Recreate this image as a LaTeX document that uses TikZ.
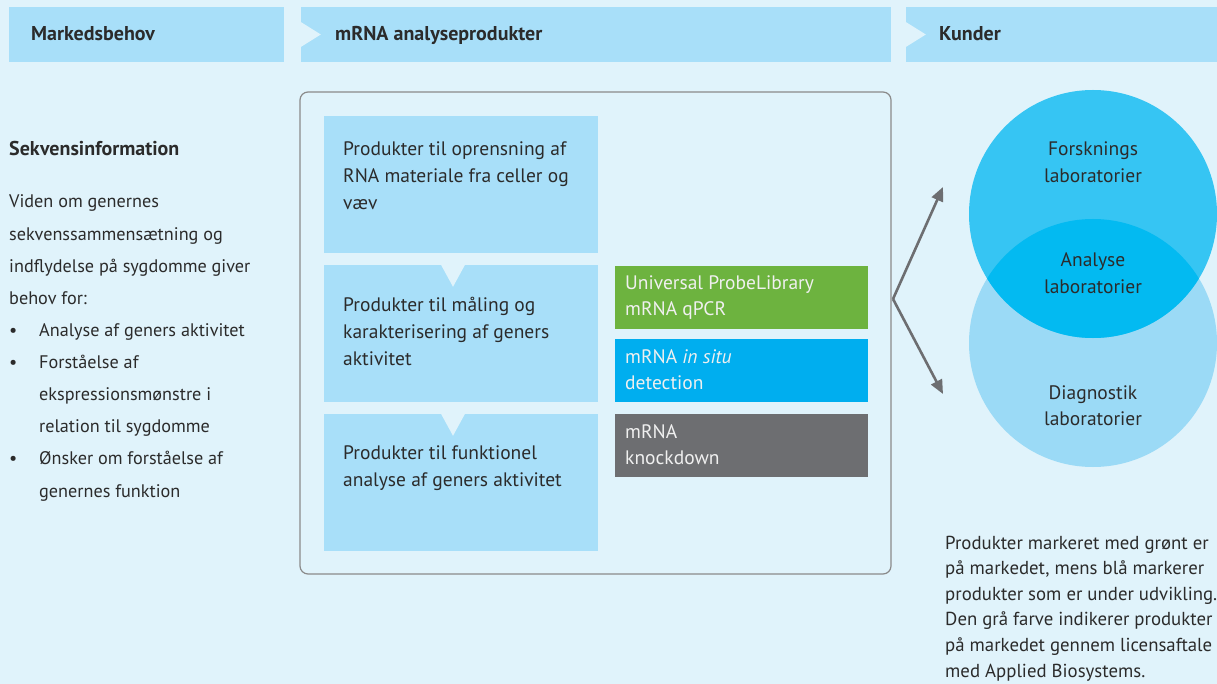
\documentclass[tikz,border=0pt]{standalone}
\usepackage{fontspec}
\setmainfont{PT Sans}
\usetikzlibrary{calc,positioning,arrows.meta}
\definecolor{bg}{HTML}{E0F3FB}
\definecolor{barblue}{HTML}{A8DFF9}
\definecolor{txtgray}{HTML}{2B2B2B}
\definecolor{upl}{HTML}{6DB33F}
\definecolor{insitu}{HTML}{00AEEF}
\definecolor{kd}{HTML}{6D6E71}
\definecolor{framegray}{HTML}{8A8A8A}
\definecolor{circtop}{HTML}{36C5F3}
\definecolor{circbot}{HTML}{9BDAF6}
\definecolor{circmid}{HTML}{03BAF1}

\begin{document}
\begin{tikzpicture}[x=1pt, y=-1pt,
    bar/.style={fill=barblue, minimum height=55, inner sep=0},
    head/.style={anchor=base west, inner sep=0, text=txtgray, font=\bfseries\fontsize{20}{24}\selectfont},
    prodbox/.style={fill=barblue, minimum width=274, minimum height=137, inner sep=0},
    prodtxt/.style={anchor=base west, inner sep=0, align=left, text=txtgray, font=\fontsize{19.5}{27}\selectfont},
    tagbox/.style={minimum width=253, minimum height=63, inner sep=0},
    tagtxt/.style={anchor=base west, inner sep=0, align=left, text=white!94!black, font=\fontsize{19.5}{26}\selectfont},
    bodytxt/.style={anchor=base west, inner sep=0, align=left, text=txtgray, font=\fontsize{18.2}{32.2}\selectfont},
    circtxt/.style={anchor=base, inner sep=0, align=center, text=txtgray, font=\fontsize{19.5}{26.5}\selectfont},
    conn/.style={draw=kd, line width=2.6pt, -{Triangle[length=14pt,width=12pt]}}]

  % background
  \fill[bg] (0,0) rectangle (1217,684);
  \useasboundingbox (0,0) rectangle (1217,684);

  % header bars
  \node[bar, minimum width=275] (behov) at (146.5,34.5) {};
  \node[bar, minimum width=590] (mrna) at (596,34.5) {};
  \node[bar, minimum width=311] (kunder) at (1061.5,34.5) {};
  \foreach \b in {mrna,kunder}
    \fill[bg] ([yshift=12.5pt]\b.west) -- ([xshift=20pt]\b.west) -- ([yshift=-12.5pt]\b.west) -- cycle;
  \node[head] at (31,41) {Markedsbehov};
  \node[head] at (335,41) {mRNA analyseprodukter};
  \node[head] at (939,41) {Kunder};

  % left column (base = last line)
  \node[head] at (9,156) {Sekvensinformation};
  \node[bodytxt] (viden) at (9,304.6) {Viden om genernes\\sekvenssammensætning og\\indflydelse på sygdomme giver\\behov for:};
  \node[bodytxt] (behovliste) at (39,497) {Analyse af geners aktivitet\\Forståelse af\\ekspressionsmønstre i\\relation til sygdomme\\Ønsker om forståelse af\\genernes funktion};
  \foreach \y in {336,368.2,464.8}
    \node[bodytxt] at (9,\y) {•};

  % product frame
  \node[draw=framegray, line width=1.2pt, rounded corners=8pt, minimum width=591, minimum height=482, inner sep=0] (ramme) at (595.5,333) {};

  \node[prodbox] (prod1) at (461,184.5) {};
  \node[prodbox] (prod2) at (461,333.5) {};
  \node[prodbox] (prod3) at (461,482.5) {};
  \foreach \b in {prod2,prod3}
    \fill[bg] ([xshift=-20pt]\b.north) -- ([xshift=4pt]\b.north) -- ([xshift=-8pt,yshift=-22pt]\b.north) -- cycle;
  \node[prodtxt] at (343,210) {Produkter til oprensning af\\RNA materiale fra celler og\\væv};
  \node[prodtxt] at (343,365) {Produkter til måling og\\karakterisering af geners\\aktivitet};
  \node[prodtxt] at (343,486) {Produkter til funktionel\\analyse af geners aktivitet};

  \node[tagbox, fill=upl] (upl) at (741.5,297.5) {};
  \node[tagbox, fill=insitu] (insitu) at (741.5,370.5) {};
  \node[tagbox, fill=kd] (knock) at (741.5,445.5) {};
  \node[tagtxt] at (625,316) {Universal ProbeLibrary\\mRNA qPCR};
  \node[tagtxt] at (625,389) {mRNA \textit{in situ}\\detection};
  \node[tagtxt] at (625,464) {mRNA\\knockdown};

  % arrows to customers
  \coordinate (fork) at (893,299);
  \coordinate (tilForsk) at (943,187);
  \coordinate (tilDiag) at (943,394);
  \draw[conn] (fork) -- (tilForsk);
  \draw[conn] (fork) -- (tilDiag);

  % customer circles
  \node[circle, fill=circbot, minimum size=248, inner sep=0] (diag) at (1093,343) {};
  \node[circle, fill=circtop, minimum size=248, inner sep=0] (forsk) at (1093,214) {};
  \begin{scope}
    \clip (diag.center) circle[radius=124pt];
    \fill[circmid] (forsk.center) circle[radius=124pt];
  \end{scope}
  \node[circtxt] at (1093,182.5) {Forsknings\\laboratorier};
  \node[circtxt] at (1093,293.5) {Analyse\\laboratorier};
  \node[circtxt] at (1093,425.5) {Diagnostik\\laboratorier};

  % note
  \node[anchor=base west, inner sep=0, align=left, text=txtgray, font=\fontsize{18.8}{25.6}\selectfont] (note) at (945,677) {Produkter markeret med grønt er\\på markedet, mens blå markerer\\produkter som er under udvikling.\\Den grå farve indikerer produkter\\på markedet gennem licensaftale\\med Applied Biosystems.};
\end{tikzpicture}
\end{document}
